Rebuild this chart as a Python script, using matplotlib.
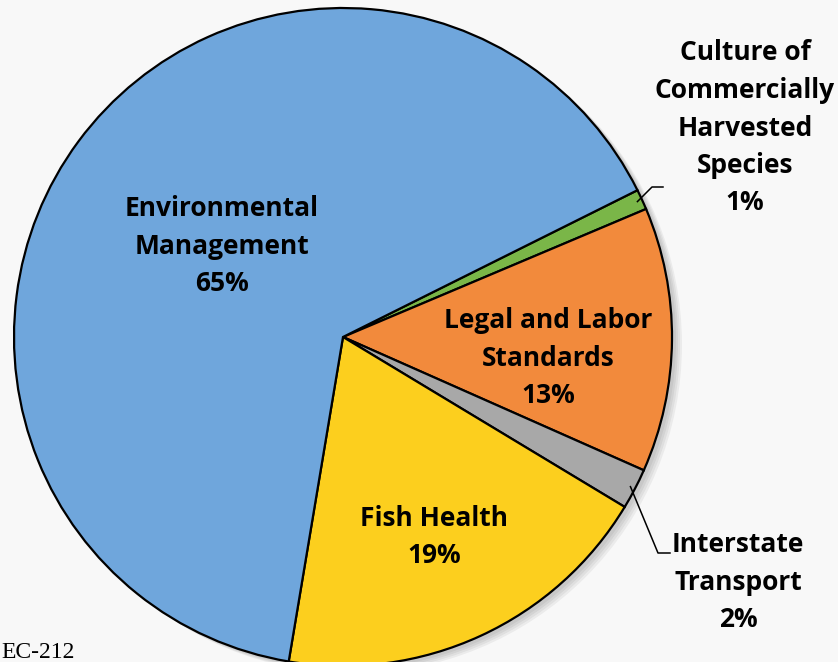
import numpy as np
import matplotlib.pyplot as plt

# slices, clockwise from the top-right
labels = ['Culture of\nCommercially\nHarvested\nSpecies', 'Legal and Labor\nStandards',
          'Interstate\nTransport', 'Fish Health', 'Environmental\nManagement']
values = [1, 13, 2, 19, 65]
colors = ['#7AB648', '#F28A3C', '#A8A8A8', '#FCCF1E', '#6FA6DC']

W, H = 838, 662
fig = plt.figure(figsize=(W / 100, H / 100), dpi=100)
fig.patch.set_facecolor('#F8F8F8')
ax = fig.add_axes([0, 0, 1, 1])
ax.set_xlim(0, W)
ax.set_ylim(0, H)
ax.set_aspect('equal')
ax.axis('off')

cx, cy, r = 343, H - 337, 329

# soft drop shadow
for i in range(4):
    sh = plt.Circle((cx + 4 + i * 2, cy - 3 - i * 1.5), r, color='black', alpha=0.05, lw=0)
    ax.add_patch(sh)

wedges, _ = ax.pie(values, colors=colors, startangle=26.5, counterclock=False,
                   center=(cx, cy), radius=r, frame=True,
                   wedgeprops=dict(edgecolor='black', linewidth=1.6))
ax.set_xlim(0, W)
ax.set_ylim(0, H)
ax.axis('off')

font = dict(family=['Open Sans', 'DejaVu Sans'], fontweight='bold', fontsize=19,
            ha='center', va='center', linespacing=1.5, color='black')

# inside labels
ax.text(222, H - 246, labels[4] + '\n' + f'{values[4]}%', **font)
ax.text(548, H - 358, labels[1] + '\n' + f'{values[1]}%', **font)
ax.text(434, H - 537, labels[3] + '\n' + f'{values[3]}%', **font)
# outside labels
ax.text(745, H - 128, labels[0] + '\n' + f'{values[0]}%', **font)
ax.text(738, H - 582, labels[2] + '\n' + f'{values[2]}%', **font)

# leader lines from the small slices
def mid_point(w, frac=0.985):
    ang = np.deg2rad((w.theta1 + w.theta2) / 2)
    return cx + r * frac * np.cos(ang), cy + r * frac * np.sin(ang)

x0, y0 = mid_point(wedges[0])
ax.plot([x0, 652, 663], [y0, H - 187, H - 187], color='black', lw=1.1)
x0, y0 = mid_point(wedges[2])
ax.plot([x0, 658, 670], [y0, H - 553, H - 553], color='black', lw=1.1)

ax.text(1, H - 658, 'EC-212', family='Liberation Serif', fontsize=17,
        ha='left', va='baseline', color='black')

fig.savefig('out.png', dpi=100, facecolor=fig.get_facecolor())
